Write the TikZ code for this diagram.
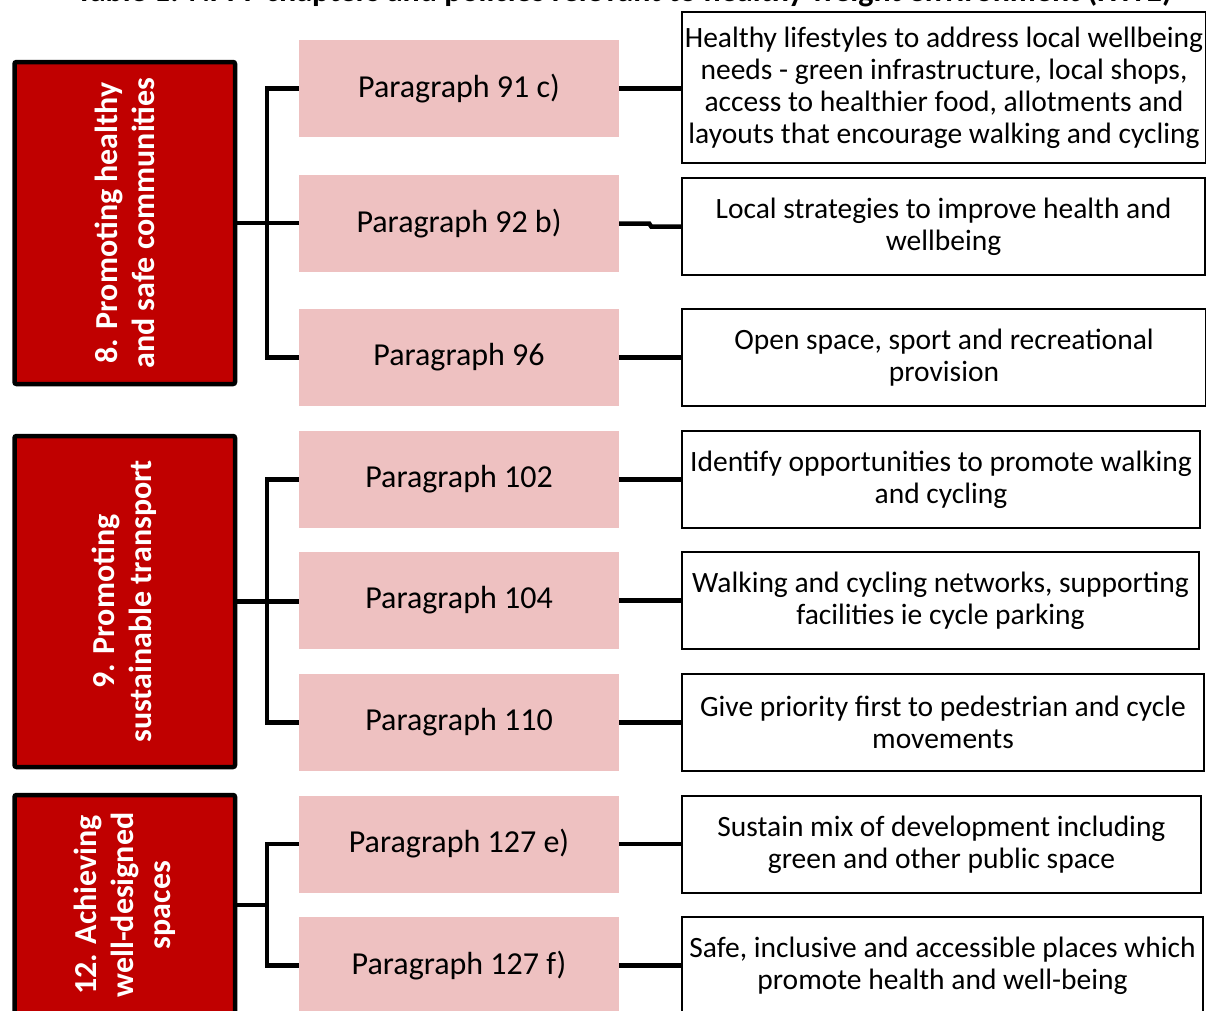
\documentclass[tikz,border=0pt]{standalone}
\usepackage{fontspec}
\setmainfont{Carlito}
\definecolor{chapred}{RGB}{192,0,0}
\definecolor{parapink}{RGB}{238,193,193}
\begin{document}
\begin{tikzpicture}[x=1pt,y=-1pt,
  chap/.style={draw=black, line width=4.5pt, fill=chapred, rounded corners=2pt,
    text=white, font=\bfseries\fontsize{32}{37}\selectfont, align=center,
    inner sep=0pt, rotate=90},
  para/.style={fill=parapink, minimum width=320pt, minimum height=97pt,
    inner sep=0pt, font=\fontsize{32}{36}\selectfont},
  desc/.style={draw=black, line width=1.2pt, inner sep=0pt, align=center,
    font=\fontsize{29.5}{32}\selectfont},
  link/.style={line width=4.5pt}]
\useasboundingbox (0,0) rectangle (1206,1010);
\clip (0,0) rectangle (1206,1010);

% title (cut off at the top)
\node[anchor=base east, inner sep=0pt, font=\bfseries\fontsize{32}{34}\selectfont]
  (title) at (1172,1.5) {Table 1: NPPF chapters and policies relevant to healthy weight environment (HWE)};

% chapter boxes
\node[chap, minimum width=322pt, minimum height=220.5pt] (c1) at (124.75,223)
  {8. Promoting healthy\\and safe communities};
\node[chap, minimum width=331pt, minimum height=220.5pt] (c2) at (124.75,601.5)
  {9. Promoting\\sustainable transport};
\node[chap, minimum width=220pt, minimum height=220.5pt] (c3) at (124.75,905)
  {12. Achieving\\well-designed\\spaces};

% paragraph boxes
\node[para] (p91)  at (459,88.5)  {Paragraph 91 c)};
\node[para] (p92)  at (459,223.5) {Paragraph 92 b)};
\node[para] (p96)  at (459,357.5) {Paragraph 96};
\node[para] (p102) at (459,479.5) {Paragraph 102};
\node[para] (p104) at (459,600.5) {Paragraph 104};
\node[para] (p110) at (459,722.5) {Paragraph 110};
\node[para] (p127e) at (459,844)  {Paragraph 127 e)};
\node[para] (p127f) at (459,965.5) {Paragraph 127 f)};

% description boxes
\node[desc, minimum width=524pt, minimum height=151pt] (r1) at (944,87.5)
  {Healthy lifestyles to address local wellbeing\\needs - green infrastructure, local shops,\\access to healthier food, allotments and\\layouts that encourage walking and cycling};
\node[desc, minimum width=523pt, minimum height=97pt] (r2) at (943.5,226.5)
  {Local strategies to improve health and\\wellbeing};
\node[desc, minimum width=524pt, minimum height=97pt] (r3) at (944,357.5)
  {Open space, sport and recreational\\provision};
\node[desc, minimum width=518pt, minimum height=97pt] (r4) at (941,479.5)
  {Identify opportunities to promote walking\\and cycling};
\node[desc, minimum width=517pt, minimum height=97pt] (r5) at (940.5,600.5)
  {Walking and cycling networks, supporting\\facilities ie cycle parking};
\node[desc, minimum width=522pt, minimum height=97pt] (r6) at (943,722.5)
  {Give priority first to pedestrian and cycle\\movements};
\node[desc, minimum width=519pt, minimum height=97pt] (r7) at (941.5,844.5)
  {Sustain mix of development including\\green and other public space};
\node[desc, minimum width=521pt, minimum height=97pt] (r8) at (942.5,965.5)
  {Safe, inclusive and accessible places which\\promote health and well-being};

% brackets
\coordinate (b) at (267,0);
\draw[link] (c1.south) -- (c1.south -| p92.west);
\draw[link] (p91.west) -- (b |- p91.west) -- (b |- p96.west) -- (p96.west);
\draw[link] (c2.south) -- (c2.south -| p104.west);
\draw[link] (p102.west) -- (b |- p102.west) -- (b |- p110.west) -- (p110.west);
\draw[link] (c3.south) -- (b |- c3.south);
\draw[link] (p127e.west) -- (b |- p127e.west) -- (b |- p127f.west) -- (p127f.west);

% paragraph to description links
\draw[link] (p91.east) -- (p91.east -| r1.west);
\draw[link] (p92.east) -- ([xshift=30pt]p92.east) -- ([xshift=32pt]p92.east |- r2.west) -- (r2.west);
\draw[link] (p96.east) -- (p96.east -| r3.west);
\draw[link] (p102.east) -- (p102.east -| r4.west);
\draw[link] (p104.east) -- (p104.east -| r5.west);
\draw[link] (p110.east) -- (p110.east -| r6.west);
\draw[link] (p127e.east) -- (p127e.east -| r7.west);
\draw[link] (p127f.east) -- (p127f.east -| r8.west);
\end{tikzpicture}
\end{document}
